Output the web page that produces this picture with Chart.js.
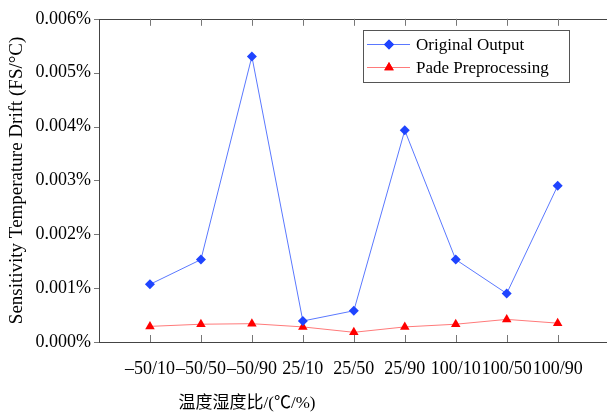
<!DOCTYPE html>
<html>
<head>
<meta charset="utf-8">
<script src="https://cdn.jsdelivr.net/npm/chart.js@4"></script>
<style>
  html, body { margin: 0; padding: 0; background: #fff; }
  #wrap { width: 607px; height: 415px; position: relative; }
</style>
</head>
<body>
<div id="wrap"><canvas id="driftChart"></canvas></div>
<script>
const categories = ['\u201350/10', '\u201350/50', '\u201350/90', '25/10', '25/50', '25/90', '100/10', '100/50', '100/90'];
const originalOutput = [0.00107, 0.00153, 0.00530, 0.00039, 0.00058, 0.00393, 0.00153, 0.00090, 0.00290];
const padePreprocessing = [0.00029, 0.00033, 0.00034, 0.00028, 0.00018, 0.00028, 0.00033, 0.00042, 0.00035];
const yTicks = [0, 0.001, 0.002, 0.003, 0.004, 0.005, 0.006];

const serif = '"Liberation Serif", "Times New Roman", serif';
const toPoints = arr => arr.map((v, i) => ({ x: i + 1, y: v }));

// frame, inward/outward ticks, legend box and x title
const framePlugin = {
    id: 'frame',
    afterDraw(chart) {
        const { ctx, chartArea: a, scales: { x, y } } = chart;
        ctx.save();
        ctx.lineWidth = 1;
        ctx.strokeStyle = '#444';
        ctx.beginPath();
        ctx.moveTo(Math.round(a.left) + 0.5, Math.round(a.top));
        ctx.lineTo(Math.round(a.left) + 0.5, Math.round(a.bottom) + 1);
        ctx.moveTo(a.left, Math.round(a.top) + 0.5);
        ctx.lineTo(chart.width, Math.round(a.top) + 0.5);
        ctx.moveTo(a.left, Math.round(a.bottom) + 0.5);
        ctx.lineTo(chart.width, Math.round(a.bottom) + 0.5);
        ctx.stroke();

        ctx.strokeStyle = '#777';
        ctx.beginPath();
        yTicks.forEach(v => {
            const py = Math.round(y.getPixelForValue(v)) + 0.5;
            ctx.moveTo(a.left - 5, py);
            ctx.lineTo(a.left, py);
        });
        categories.forEach((c, i) => {
            const px = Math.round(x.getPixelForValue(i + 1)) + 0.5;
            ctx.moveTo(px, a.top);
            ctx.lineTo(px, a.top + 7);
            ctx.moveTo(px, a.bottom);
            ctx.lineTo(px, a.bottom - 7);
        });
        ctx.stroke();

        // legend
        const lx = 363, ly = 30, lw = 206, lh = 52;
        ctx.strokeStyle = '#555';
        ctx.strokeRect(lx + 0.5, ly + 0.5, lw, lh);
        ctx.font = '17px ' + serif;
        ctx.textBaseline = 'middle';
        ctx.textAlign = 'left';
        chart.data.datasets.forEach((ds, i) => {
            const ry = [44.5, 67.5][i];
            ctx.strokeStyle = ds.borderColor;
            ctx.beginPath();
            ctx.moveTo(367, ry);
            ctx.lineTo(410, ry);
            ctx.stroke();
            ctx.fillStyle = ds.pointBackgroundColor;
            Chart.helpers.drawPoint(ctx, { pointStyle: ds.pointStyle, rotation: 0, radius: ds.pointRadius, borderWidth: 0 }, 389, ry);
            ctx.fill();
            ctx.fillStyle = '#000';
            ctx.fillText(ds.label, 416, ry + 1);
        });

        // x axis title
        ctx.font = '17px ' + serif + ', "Noto Sans CJK SC"';
        ctx.textAlign = 'center';
        ctx.fillStyle = '#000';
        ctx.fillText('温度湿度比/(℃/%)', 247, 404);
        ctx.restore();
    }
};

new Chart(document.getElementById('driftChart'), {
    type: 'line',
    data: {
        datasets: [
            {
                label: 'Original Output', data: toPoints(originalOutput),
                borderColor: '#5a78ff', borderWidth: 1,
                pointStyle: 'rectRot', pointRadius: 5,
                pointBackgroundColor: '#1f44ff', pointBorderColor: '#1f44ff', pointBorderWidth: 0
            },
            {
                label: 'Pade Preprocessing', data: toPoints(padePreprocessing),
                borderColor: '#ff7a7a', borderWidth: 1,
                pointStyle: 'triangle', pointRadius: 5.5,
                pointBackgroundColor: '#ff0000', pointBorderColor: '#ff0000', pointBorderWidth: 0
            }
        ]
    },
    options: {
        animation: false,
        responsive: true,
        maintainAspectRatio: false,
        layout: { padding: { top: 16, right: 0, bottom: 0, left: 0 } },
        plugins: { legend: { display: false }, tooltip: { enabled: false } },
        scales: {
            x: {
                type: 'linear', min: 0, max: 9.86,
                border: { display: false },
                grid: { display: false, drawTicks: false },
                afterFit: s => { s.height = 73; },
                afterBuildTicks: s => { s.ticks = categories.map((c, i) => ({ value: i + 1 })); },
                ticks: {
                    autoSkip: false, maxRotation: 0, padding: 16,
                    color: '#000', font: { family: serif, size: 18 },
                    callback: v => categories[v - 1] || ''
                }
            },
            y: {
                min: 0, max: 0.006,
                border: { display: false },
                grid: { display: false, drawTicks: false },
                afterFit: s => { s.width = 99; },
                afterBuildTicks: s => { s.ticks = yTicks.map(v => ({ value: v })); },
                ticks: {
                    padding: 8, color: '#000', font: { family: serif, size: 18 },
                    callback: v => v.toFixed(3) + '%'
                },
                title: {
                    display: true, text: 'Sensitivity Temperature Drift (FS/°C)',
                    color: '#000', font: { family: serif, size: 19 },
                    padding: { top: 6, bottom: 0 }
                }
            }
        }
    },
    plugins: [framePlugin]
});
</script>
</body>
</html>
